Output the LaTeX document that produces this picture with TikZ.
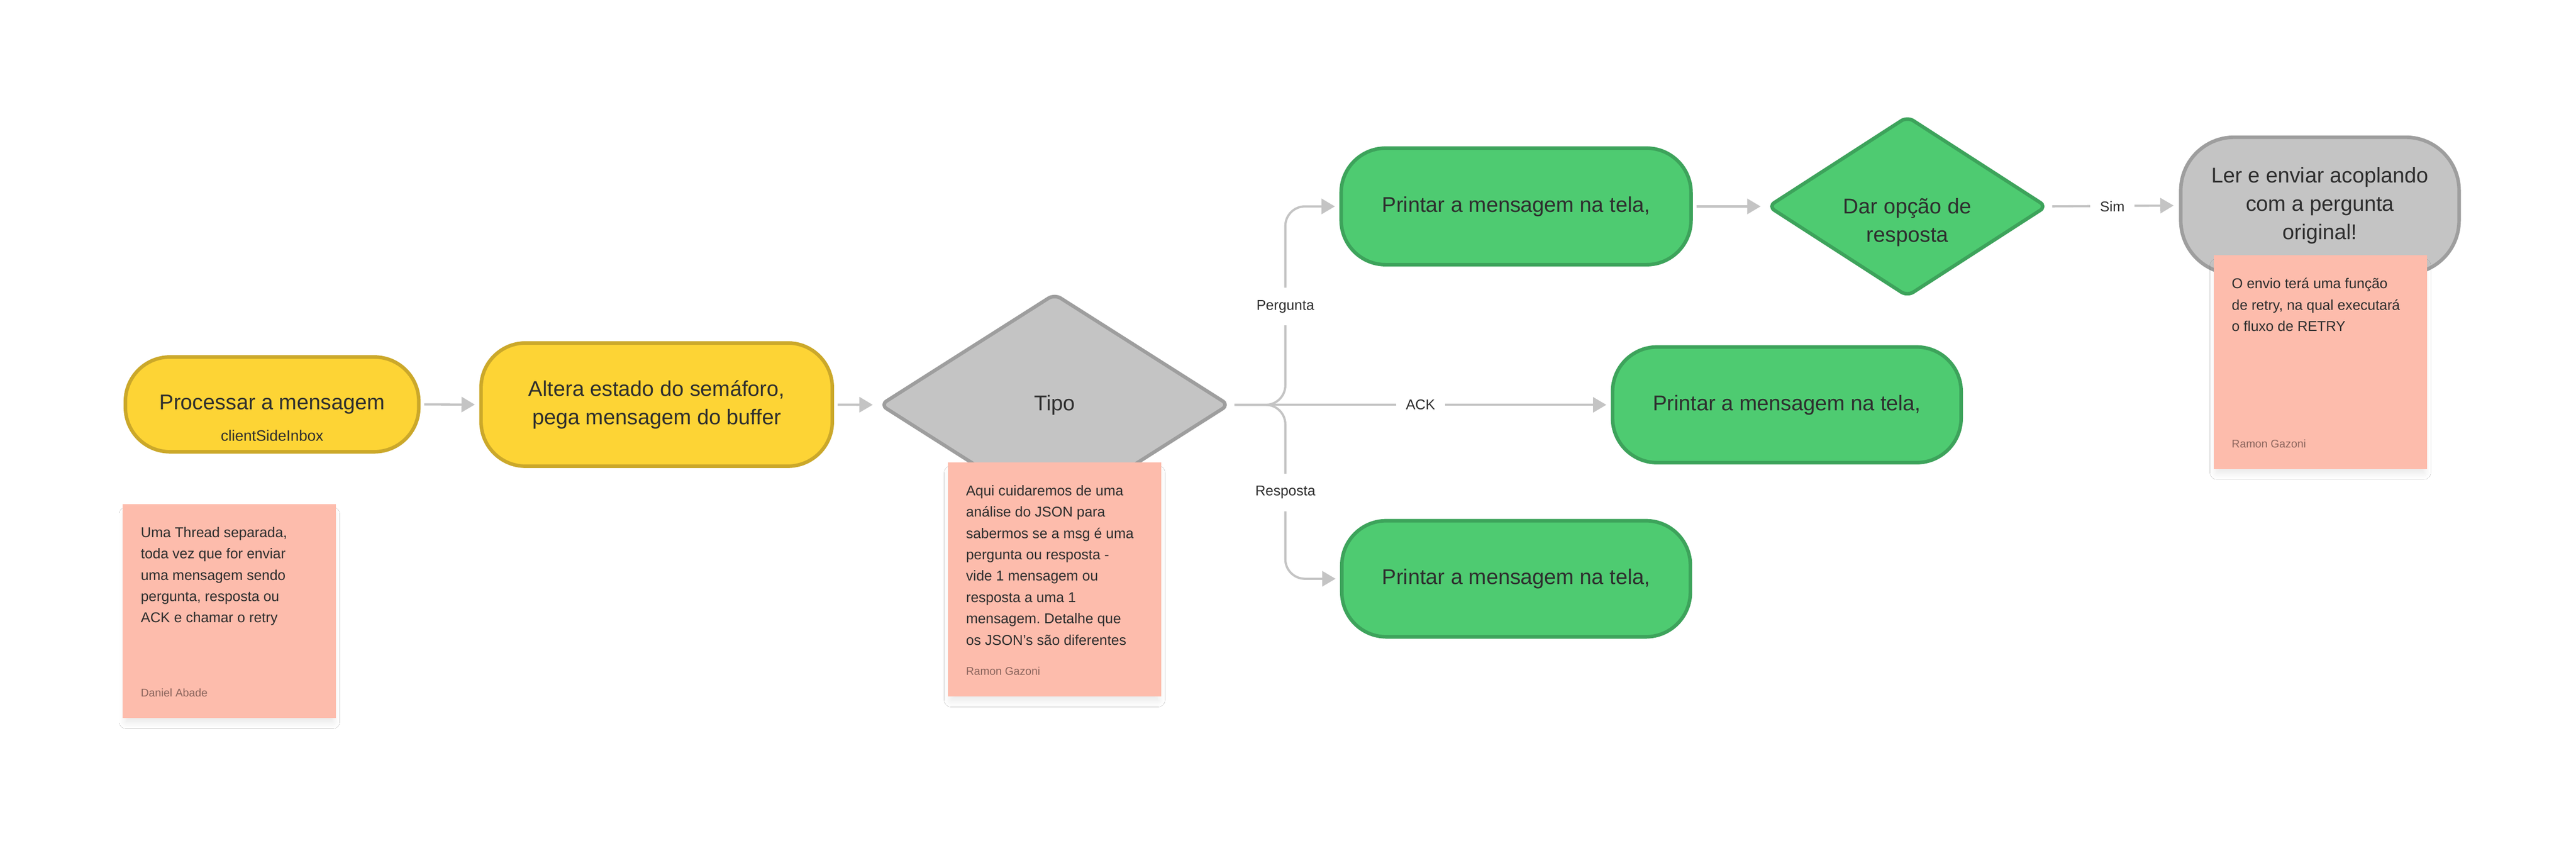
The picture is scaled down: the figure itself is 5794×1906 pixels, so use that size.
\documentclass[tikz,border=0pt]{standalone}
\usepackage{fontspec}
\setmainfont{Liberation Sans}
\usetikzlibrary{arrows.meta,shapes.geometric,shadows.blur}
\frenchspacing
\definecolor{txt}{HTML}{2E2E2E}
\definecolor{yfill}{HTML}{FDD435}
\definecolor{yline}{HTML}{CBA82A}
\definecolor{gfill}{HTML}{4ECB71}
\definecolor{gline}{HTML}{3DA35B}
\definecolor{kfill}{HTML}{C4C4C4}
\definecolor{kline}{HTML}{9E9E9E}
\definecolor{notefill}{HTML}{FDBCAC}
\definecolor{authc}{HTML}{8C655D}
\definecolor{lncol}{HTML}{C4C4C4}
\begin{document}
\begin{tikzpicture}[x=0.25pt,y=-0.25pt,
  base/.style={font=\fontsize{12pt}{16pt}\selectfont, text=txt, align=center, line width=2pt, inner sep=0pt},
  yel/.style={base, rectangle, rounded corners=25pt, fill=yfill, draw=yline},
  grn/.style={base, rectangle, rounded corners=25pt, fill=gfill, draw=gline},
  gry/.style={base, rectangle, rounded corners=30pt, fill=kfill, draw=kline},
  dec/.style={base, diamond, rounded corners=4pt},
  note/.style={rectangle, fill=notefill, minimum width=120pt, inner sep=0pt,
    blur shadow={shadow xshift=0pt, shadow yshift=-4pt, shadow scale=0.97, shadow blur radius=4pt, shadow blur steps=10, shadow opacity=10}},
  notetext/.style={anchor=north west, font=\fontsize{8pt}{12pt}\selectfont\frenchspacing, text=txt, align=left, inner sep=0pt},
  author/.style={anchor=base west, font=\fontsize{6.25pt}{8pt}\selectfont, text=authc, inner sep=0pt},
  lbl/.style={font=\fontsize{8pt}{10pt}\selectfont, text=txt, fill=white, inner xsep=5.5pt, inner ysep=7pt},
  conn/.style={draw=lncol, line width=1.25pt, -{Triangle[length=7.5pt,width=8.5pt]}, shorten <=2pt, shorten >=2.5pt, rounded corners=11pt}
]
\fill[white] (0,0) rectangle (5794,1906);
\useasboundingbox (0,0) rectangle (5794,1906);

% process nodes
\node[yel, minimum width=165pt, minimum height=53.25pt] (n1) at (612,909) {Processar a mensagem};
\node[base, font=\fontsize{8.5pt}{10pt}\selectfont, anchor=base] (n1sub) at (612,991) {clientSideInbox};
\node[yel, minimum width=197.5pt, minimum height=69.25pt] (n2) at (1477,909.5) {Altera estado do semáforo,\\pega mensagem do buffer};
\node[dec, fill=kfill, draw=kline, minimum width=196.5pt, minimum height=125pt] (tipo) at (2372,910) {Tipo};
\node[grn, minimum width=196.75pt, minimum height=65.5pt] (top) at (3410,464) {Printar a mensagem na tela,};
\node[grn, minimum width=196pt, minimum height=65pt] (mid) at (4019,910) {Printar a mensagem na tela,};
\node[grn, minimum width=196pt, minimum height=65.25pt] (bot) at (3410,1301) {Printar a mensagem na tela,};
\node[dec, fill=gfill, draw=gline, minimum width=157pt, minimum height=101.5pt] (d2) at (4290,464) {};
\node[base] (d2t) at (4290,500) {Dar opção de\\resposta};
\node[gry, minimum width=156.5pt, minimum height=76.75pt] (gray) at (5218,462) {Ler e enviar acoplando\\com a pergunta\\original!};

% connectors
\coordinate (bx) at (2891,910);
\draw[conn] (n1.east) -- (n2.west);
\draw[conn, shorten >=3pt] (n2.east) -- (tipo.west);
\draw[conn] (tipo.east) -- (bx) |- (top.west);
\draw[conn] (tipo.east) -- (bx) |- (bot.west);
\draw[conn] (tipo.east) -- (mid.west);
\draw[conn, shorten >=3pt] (top.east) -- (d2.west);
\draw[conn, shorten >=3pt] (d2.east) -- (gray.west);

\node[lbl] (lp) at (2891,689) {Pergunta};
\node[lbl] (lr) at (2891,1107) {Resposta};
\node[lbl] (la) at (3195,910) {ACK};
\node[lbl] (ls) at (4751,464) {Sim};

% sticky notes
\node[note, minimum height=120.25pt] (note1) at (516,1373.5) {};
\node[notetext] (note1t) at (316,1175) {\rule{0pt}{8pt}Uma Thread separada,\\toda vez que for enviar\\uma mensagem sendo\\pergunta, resposta ou\\ACK e chamar o retry};
\node[author] (note1a) at (316,1566) {Daniel Abade};

\node[note, minimum height=131.75pt] (note2) at (2372,1302.5) {};
\node[notetext] (note2t) at (2172,1081) {\rule{0pt}{8pt}Aqui cuidaremos de uma\\análise do JSON para\\sabermos se a msg é uma\\pergunta ou resposta -\\vide 1 mensagem ou\\resposta a uma 1\\mensagem. Detalhe que\\os JSON’s são diferentes};
\node[author] (note2a) at (2172,1518) {Ramon Gazoni};

\node[note, minimum height=120pt] (note3) at (5219,814) {};
\node[notetext] (note3t) at (5019,616) {\rule{0pt}{8pt}O envio terá uma função\\de retry, na qual executará\\o fluxo de RETRY};
\node[author] (note3a) at (5019,1006) {Ramon Gazoni};
\end{tikzpicture}
\end{document}
